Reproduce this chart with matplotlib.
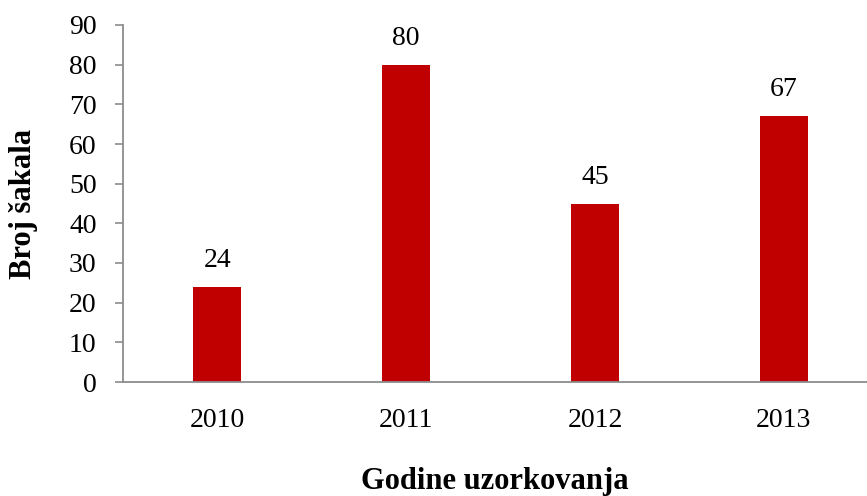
import matplotlib
matplotlib.use("Agg")
import matplotlib.pyplot as plt

years = ["2010", "2011", "2012", "2013"]
counts = [24, 80, 45, 67]
yticks = [0, 10, 20, 30, 40, 50, 60, 70, 80, 90]

plt.rcParams["font.family"] = ["Liberation Serif", "DejaVu Serif"]

fig = plt.figure(figsize=(8.67, 4.96), dpi=100)
ax = fig.add_axes([123 / 867, 1 - 382 / 496, 1 - 123 / 867, (382 - 25) / 496])

x = range(len(years))
bars = ax.bar(x, counts, width=0.254, color="#C00000")
for xi, v in zip(x, counts):
    ax.annotate(str(v), (xi, v), xytext=(0, 10), textcoords="offset points",
                ha="center", va="bottom", fontsize=20)

ax.set_xlim(-0.5, 3.44)
ax.set_ylim(0, 90)
ax.set_yticks(yticks)
ax.set_xticks(list(x))
ax.set_xticklabels(years)

for s in ["top", "right"]:
    ax.spines[s].set_visible(False)
for s in ["left", "bottom"]:
    ax.spines[s].set_color("#8c8c8c")
    ax.spines[s].set_linewidth(1.3)

ax.tick_params(axis="y", length=6, width=1.2, color="#8c8c8c", pad=13,
               labelsize=20)
ax.tick_params(axis="x", length=0, pad=19, labelsize=20)

ax.set_ylabel("Broj šakala", fontsize=22, fontweight="bold", labelpad=22)
ax.set_xlabel("Godine uzorkovanja", fontsize=22, fontweight="bold", labelpad=24)

fig.savefig("out.png", dpi=100)
